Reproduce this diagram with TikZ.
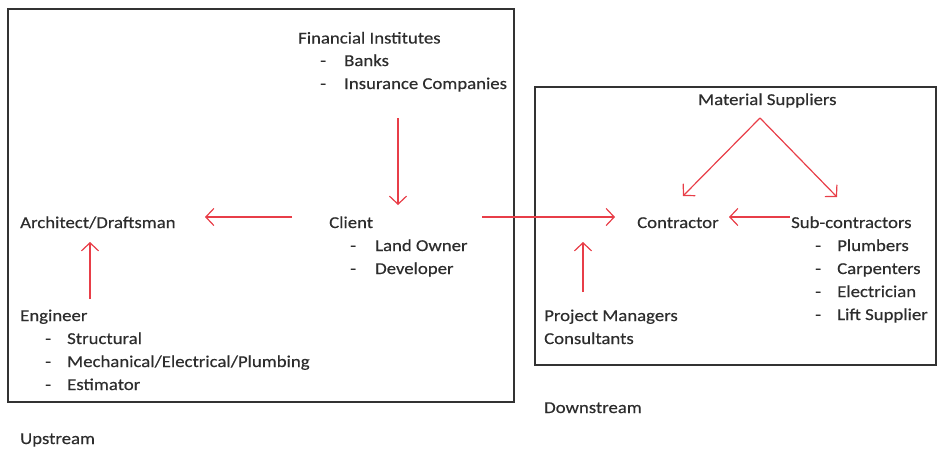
\documentclass[tikz,border=0pt]{standalone}
\usepackage{fontspec}
\setmainfont{Carlito}[FakeStretch=1.13,FakeBold=0.4]
\usetikzlibrary{arrows.meta}
\definecolor{arrred}{RGB}{232,62,72}
\definecolor{txt}{RGB}{45,45,45}
\begin{document}
\begin{tikzpicture}[x=1pt,y=-1pt,
  lbl/.style={anchor=base west,inner sep=0pt,text=txt,font=\fontsize{16.6}{19}\selectfont},
  arr/.style={draw=arrred,line width=1.2pt,-{Straight Barb[length=8pt,width=17pt,line width=1.2pt]}},
  frame/.style={draw=black!80,line width=1.3pt}]
\useasboundingbox (0,0) rectangle (938,448);
% boxes
\draw[frame] (8,9) rectangle (514,402);
\draw[frame] (535,87) rectangle (936,365);
% Financial institutes
\node[lbl] (fin) at (298,43.5) {Financial Institutes};
\node[lbl] (fd1) at (320,66) {-};
\node[lbl] (fin1) at (344,66) {Banks};
\node[lbl] (fd2) at (320,89) {-};
\node[lbl] (fin2) at (344,89) {Insurance Companies};
% Client
\node[lbl] (cli) at (329,228) {Client};
\node[lbl] (cd1) at (350,251) {-};
\node[lbl] (cli1) at (375,251) {Land Owner};
\node[lbl] (cd2) at (350,274) {-};
\node[lbl] (cli2) at (375,274) {Developer};
% Architect
\node[lbl] (arch) at (20,228) {Architect/Draftsman};
% Engineer
\node[lbl] (eng) at (20,321) {Engineer};
\node[lbl] (ed1) at (45,344) {-};
\node[lbl] (eng1) at (67,344) {Structural};
\node[lbl] (ed2) at (45,367) {-};
\node[lbl] (eng2) at (67,367) {Mechanical/Electrical/Plumbing};
\node[lbl] (ed3) at (45,390) {-};
\node[lbl] (eng3) at (67,390) {Estimator};
\node[lbl] (up) at (20,444) {Upstream};
% Downstream
\node[lbl] (mat) at (698,105) {Material Suppliers};
\node[lbl] (con) at (637,228) {Contractor};
\node[lbl] (sub) at (791,228) {Sub-contractors};
\node[lbl] (sd1) at (815,251) {-};
\node[lbl] (sub1) at (837,251) {Plumbers};
\node[lbl] (sd2) at (815,274) {-};
\node[lbl] (sub2) at (837,274) {Carpenters};
\node[lbl] (sd3) at (815,297) {-};
\node[lbl] (sub3) at (837,297) {Electrician};
\node[lbl] (sd4) at (815,320) {-};
\node[lbl] (sub4) at (837,320) {Lift Supplier};
\node[lbl] (pm) at (544,321) {Project Managers};
\node[lbl] (pm2) at (544,344) {Consultants};
\node[lbl] (down) at (544,413) {Downstream};
% arrow end coordinates
\coordinate (finS) at (398,118);
\coordinate (cliN) at (398,205);
\coordinate (cliW) at (292,217);
\coordinate (archE) at (205,217);
\coordinate (cliE) at (482,217);
\coordinate (conW) at (615,217);
\coordinate (engN) at (90,299);
\coordinate (archS) at (90,242);
\coordinate (pmN) at (583,292);
\coordinate (conS) at (583,242);
\coordinate (matS) at (760,118);
\coordinate (conNE) at (683,196);
\coordinate (subNW) at (837,197);
\coordinate (subW) at (790,217);
\coordinate (conE) at (729,217);
% arrows
\draw[arr] (finS) -- (cliN);
\draw[arr] (cliW) -- (archE);
\draw[arr] (cliE) -- (conW);
\draw[arr] (engN) -- (archS);
\draw[arr] (pmN) -- (conS);
\draw[arr] (matS) -- (conNE);
\draw[arr] (matS) -- (subNW);
\draw[arr] (subW) -- (conE);
\end{tikzpicture}
\end{document}
